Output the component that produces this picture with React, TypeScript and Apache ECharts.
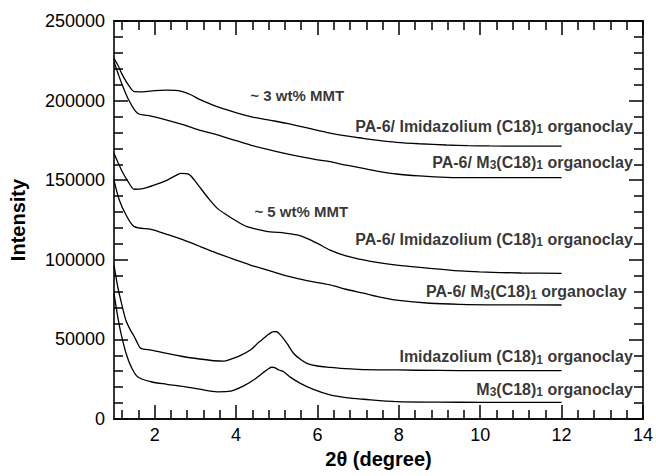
import React, { useEffect, useRef } from "react";
import * as echarts from "echarts";

// ---- data ----
const aX = [1.0, 1.1, 1.2, 1.35, 1.5, 1.7, 2.0, 2.3, 2.64, 2.9, 3.13, 3.45, 3.78, 4.1, 4.43, 4.85, 5.25, 5.8, 6.31, 6.7, 7.12, 7.5, 7.94, 8.5, 9.17, 9.7, 10.23, 11.0, 12.0];
const aY = [226500, 222000, 216500, 210000, 205600, 205500, 206300, 206600, 206000, 203500, 200400, 197000, 194100, 191600, 189500, 187600, 185700, 182500, 179600, 177800, 176300, 175000, 173800, 172900, 172100, 171700, 171500, 171400, 171400];

const bX = [1.0, 1.1, 1.2, 1.35, 1.58, 1.91, 2.3, 2.72, 3.1, 3.54, 4.0, 4.43, 5.0, 5.58, 6.0, 6.31, 6.7, 7.13, 7.5, 7.94, 8.5, 9.17, 10.0, 11.0, 12.0];
const bY = [224400, 217000, 210000, 201000, 192000, 190300, 187800, 184700, 181500, 178400, 174800, 171500, 168000, 164800, 162800, 161600, 159400, 157400, 155600, 153900, 152700, 151800, 151600, 151600, 151600];

const cX = [1.0, 1.1, 1.2, 1.35, 1.5, 1.74, 2.0, 2.31, 2.5, 2.64, 2.84, 3.05, 3.29, 3.54, 3.78, 4.0, 4.27, 4.55, 4.84, 5.2, 5.5, 5.74, 6.0, 6.31, 6.7, 7.13, 7.5, 8.0, 8.76, 9.5, 9.98, 11.0, 12.0];
const cY = [166900, 161000, 155500, 149000, 144300, 144900, 147000, 150100, 152700, 154300, 153700, 147500, 139600, 132300, 128000, 124500, 120800, 119000, 117600, 116800, 115600, 113500, 110300, 106100, 102500, 99900, 98200, 96500, 94600, 93000, 92400, 91700, 91500];

const dX = [1.0, 1.13, 1.3, 1.5, 1.91, 2.3, 2.72, 3.1, 3.54, 4.0, 4.35, 4.8, 5.17, 5.8, 6.31, 6.7, 7.13, 7.5, 7.94, 8.76, 9.5, 10.5, 12.0];
const dY = [150100, 137600, 128000, 120800, 119100, 116000, 112400, 108500, 104100, 99800, 96700, 93300, 90400, 86600, 84200, 81500, 79000, 76700, 74700, 72700, 72000, 71700, 71600];

const eX = [1.0, 1.1, 1.2, 1.29, 1.4, 1.5, 1.58, 1.66, 1.91, 2.3, 2.72, 3.1, 3.46, 3.7, 3.86, 4.1, 4.35, 4.55, 4.68, 4.8, 4.92, 5.0, 5.09, 5.25, 5.41, 5.58, 5.74, 6.0, 6.31, 6.56, 7.0, 7.94, 9.0, 10.0, 12.0];
const eY = [96700, 82000, 71000, 62200, 56000, 51700, 47500, 44400, 43300, 41200, 39100, 37700, 36600, 36300, 37500, 39800, 43300, 48000, 50700, 53200, 54900, 54800, 52800, 47500, 41300, 37500, 35000, 33300, 32400, 31800, 31200, 30800, 30500, 30400, 30400];

const fX = [1.0, 1.1, 1.17, 1.3, 1.42, 1.58, 1.91, 2.3, 2.72, 3.1, 3.54, 3.8, 3.95, 4.2, 4.43, 4.65, 4.8, 4.88, 4.95, 5.05, 5.17, 5.35, 5.58, 5.9, 6.31, 6.7, 7.13, 7.94, 9.0, 10.0, 12.0];
const fY = [78900, 63000, 54000, 41000, 32900, 26600, 23400, 21800, 20300, 18700, 17100, 17300, 18200, 21000, 24500, 28800, 31600, 32500, 32300, 30800, 29700, 26000, 22400, 18600, 15100, 13400, 12400, 10900, 10600, 10500, 10500];

const xMajorTicks = [2, 4, 6, 8, 10, 12, 14];
const yMajorTicks = [0, 50000, 100000, 150000, 200000, 250000];

// annotation texts (rich-text markup) and their anchor in data units
const labelTexts = [
  "{m|~ 3 wt% MMT}",
  "{b|PA-6/ Imidazolium (C18)}{s|1}{b|\u00a0organoclay}",
  "{b|PA-6/ M}{s|3}{b|(C18)}{s|1}{b|\u00a0organoclay}",
  "{m|~ 5 wt% MMT}",
  "{b|PA-6/ Imidazolium (C18)}{s|1}{b|\u00a0organoclay}",
  "{b|PA-6/ M}{s|3}{b|(C18)}{s|1}{b|\u00a0organoclay}",
  "{b|Imidazolium (C18)}{s|1}{b|\u00a0organoclay}",
  "{b|M}{s|3}{b|(C18)}{s|1}{b|\u00a0organoclay}",
];
const labelAnchorX = [4.35, 13.75, 13.75, 4.45, 13.75, 13.6, 13.75, 13.75];
const labelAnchorY = [202900, 184000, 161400, 130200, 112900, 80000, 39100, 18800];
const labelAlign = ["left", "right", "right", "left", "right", "right", "right", "right"];

const X_MIN = 1;
const X_MAX = 14;
const Y_MIN = 0;
const Y_MAX = 250000;

const FONT = "'Liberation Sans', Arial, Helvetica, sans-serif";

function pairs(xs: number[], ys: number[]) {
  return xs.map((x, i) => [x, ys[i]]);
}

export default function App() {
  const ref = useRef<HTMLDivElement>(null);

  useEffect(() => {
    document.body.style.margin = "0";
  }, []);

  useEffect(() => {
    if (!ref.current) return;
    const chart = echarts.init(ref.current, null, { renderer: "svg" });

    const xMinor: number[] = [];
    for (let i = 3; i <= 34; i++) {
      const v = Math.round(i * 4) / 10;
      if (!xMajorTicks.some((m) => Math.abs(m - v) < 1e-6)) xMinor.push(v);
    }

    const axisLine = () => ({ show: true, onZero: false, lineStyle: { color: "#000", width: 1.6 } });
    const tickLS = () => ({ color: "#000", width: 1.5 });
    const baseX = () => ({ type: "value", min: X_MIN, max: X_MAX, splitLine: { show: false }, axisLine: axisLine() });

    const xAxes = [
      {
        ...baseX(),
        position: "bottom",
        axisTick: { show: true, inside: true, length: 14, customValues: xMajorTicks, lineStyle: tickLS() },
        axisLabel: {
          show: true,
          customValues: xMajorTicks,
          color: "#000",
          fontSize: 18,
          fontFamily: FONT,
          margin: 7,
        },
        name: "2θ (degree)",
        nameLocation: "middle",
        nameGap: 30,
        nameTextStyle: { color: "#000", fontSize: 20, fontWeight: "bold", fontFamily: FONT },
      },
      {
        ...baseX(),
        position: "bottom",
        axisTick: { show: true, inside: true, length: 9, customValues: xMinor, lineStyle: tickLS() },
        axisLabel: { show: false },
      },
      {
        ...baseX(),
        position: "top",
        axisTick: { show: true, inside: true, length: 14, customValues: xMajorTicks, lineStyle: tickLS() },
        axisLabel: { show: false },
      },
      {
        ...baseX(),
        position: "top",
        axisTick: { show: true, inside: true, length: 9, customValues: xMinor, lineStyle: tickLS() },
        axisLabel: { show: false },
      },
    ];

    const baseY = () => ({
      type: "value",
      min: Y_MIN,
      max: Y_MAX,
      interval: 50000,
      splitLine: { show: false },
      axisLine: axisLine(),
      axisTick: { show: true, inside: true, length: 14, lineStyle: tickLS() },
      minorTick: { show: true, splitNumber: 5, length: 9, lineStyle: tickLS() },
    });
    const yAxes = [
      {
        ...baseY(),
        position: "left",
        axisLabel: {
          show: true,
          customValues: yMajorTicks,
          formatter: (v: number) => String(v),
          color: "#000",
          fontSize: 18,
          fontFamily: FONT,
          margin: 9,
        },
        name: "Intensity",
        nameLocation: "middle",
        nameGap: 86,
        nameTextStyle: { color: "#000", fontSize: 20, fontWeight: "bold", fontFamily: FONT },
      },
      { ...baseY(), position: "right", axisLabel: { show: false } },
    ];

    const curves = [
      [aX, aY],
      [bX, bY],
      [cX, cY],
      [dX, dY],
      [eX, eY],
      [fX, fY],
    ] as [number[], number[]][];

    const series: any[] = curves.map(([xs, ys]) => ({
      type: "line",
      xAxisIndex: 0,
      yAxisIndex: 0,
      data: pairs(xs, ys),
      showSymbol: false,
      smooth: 0.3,
      lineStyle: { color: "#000", width: 1.3 },
    }));

    const rich = {
      b: { fontSize: 16, fontWeight: "bold", fontFamily: FONT, color: "#000", lineHeight: 18 },
      m: { fontSize: 15, fontWeight: "bold", fontFamily: FONT, color: "#000", lineHeight: 18 },
      s: { fontSize: 12, fontWeight: "bold", fontFamily: FONT, color: "#000", lineHeight: 8, verticalAlign: "bottom" },
    };
    series.push({
      type: "scatter",
      xAxisIndex: 0,
      yAxisIndex: 0,
      symbolSize: 0,
      silent: true,
      data: labelTexts.map((t, i) => ({
        value: [labelAnchorX[i], labelAnchorY[i]],
        label: {
          show: true,
          position: [0, 0],
          formatter: t,
          align: labelAlign[i],
          verticalAlign: "middle",
          rich,
        },
      })),
    });

    chart.setOption({
      animation: false,
      grid: { left: 113, right: 12, top: 21, bottom: 57 },
      xAxis: xAxes,
      yAxis: yAxes,
      series,
    } as any);

    return () => chart.dispose();
  }, []);

  return <div ref={ref} style={{ width: 656, height: 476 }} />;
}
